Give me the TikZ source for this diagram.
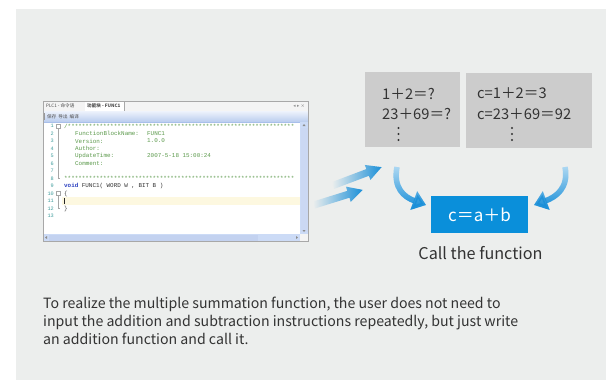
\documentclass[tikz,border=0pt]{standalone}
\usepackage{fontspec}
\setmainfont{Noto Sans CJK SC}
\newfontfamily\codefont{Liberation Mono}
\newfontfamily\symfont{DejaVu Sans}
\usetikzlibrary{arrows.meta,fadings}
\definecolor{bg}{HTML}{ECEEED}
\definecolor{boxgray}{HTML}{CCCCCC}
\definecolor{fnblue}{HTML}{0A8FDA}
\definecolor{arrblue}{HTML}{1A8FD8}
\definecolor{arrlight}{HTML}{B5DCF4}
\definecolor{txt}{HTML}{333333}
\definecolor{edborder}{HTML}{A8A8A8}
\definecolor{tabbg}{HTML}{F4F4F4}
\definecolor{tbtop}{HTML}{EEF3FC}
\definecolor{tbbot}{HTML}{B9CCEE}
\definecolor{cmt}{HTML}{5C9A4C}
\definecolor{lnc}{HTML}{3E9C9C}
\definecolor{kw}{HTML}{2A3FC0}
\definecolor{sb}{HTML}{CCDBF6}
\definecolor{sbdark}{HTML}{A9BFEA}
\definecolor{hl}{HTML}{FDF8E0}
\def\eightstars{********}
\def\stars{\eightstars\eightstars\eightstars\eightstars\eightstars\eightstars\eightstars\eightstars}
\begin{document}
\begin{tikzpicture}[x=1pt,y=-1pt,
  code/.style={anchor=west,inner sep=0pt,font=\codefont\fontsize{5.9}{6}\selectfont},
  lnum/.style={anchor=east,inner sep=0pt,text=lnc,font=\codefont\fontsize{5.2}{6}\selectfont},
  tiny/.style={anchor=west,inner sep=0pt,font=\fontsize{4.6}{5}\selectfont,text=black!70},
  graybox/.style={fill=boxgray,inner sep=0pt},
  eq/.style={anchor=base west,inner sep=0pt,text=txt,font=\fontsize{14.7}{16}\selectfont},
  para/.style={anchor=base west,inner sep=0pt,text=txt,font=\fontsize{14.15}{18}\selectfont},
  bigarrow/.style={line width=5.5pt,-{Triangle[length=13pt,width=19pt]}}
]
\useasboundingbox (0,0) rectangle (606,380);
\fill[bg] (16,9) rectangle (606,380);

% ---------- editor screenshot ----------
\fill[white] (43,101) rectangle (308,241);
\fill[tabbg] (43,101) rectangle (308,111);
\fill[white] (85,102) rectangle (124,111);
\draw[edborder,line width=0.4pt] (124,102) -- (124,111);
\node[tiny] (tab1) at (46,106) {PLC1 - 命令语};
\node[tiny,font=\bfseries\fontsize{4.6}{5}\selectfont] (tab2) at (87,106) {功能块 - FUNC1};
\node[tiny,anchor=east,text=black!45,font=\symfont\fontsize{4.6}{5}\selectfont] (tabctl) at (305,106) {◂ ▸ ×};
\shade[top color=tbtop,bottom color=tbbot] (43,111) rectangle (308,122);
\draw[sbdark,line width=0.5pt] (43,122) -- (308,122);
\node[tiny] (tools) at (47,116.5) {保存\ \ 导出\ \ 编译};
\draw[black!40,line width=0.4pt] (44.5,113) -- (44.5,120);

% highlight line and scrollbars
\fill[hl] (62,197) rectangle (300,204.5);
\fill[sb] (300,122) rectangle (308,234);
\fill[sbdark!60] (300.5,128) rectangle (307.5,232);
\fill[sb] (43,234) rectangle (300,241);
\fill[sbdark!70] (49,234.5) rectangle (258,240.5);
\fill[tabbg] (300,234) rectangle (308,241);
\fill[black!45] (302.5,126) -- (305.5,126) -- (304,124) -- cycle;
\fill[black!45] (302.5,230) -- (305.5,230) -- (304,232) -- cycle;
\fill[black!45] (47,236) -- (47,239) -- (45,237.5) -- cycle;
\fill[black!45] (296,236) -- (296,239) -- (298,237.5) -- cycle;
\draw[edborder,line width=0.5pt] (43,101) rectangle (308,241);

% fold markers
\draw[black!35,line width=0.3pt] (56,124) rectangle (60,128);
\draw[black!35,line width=0.3pt] (56,191.5) rectangle (60,195.5);
\draw[black!35,line width=0.3pt] (58,128) -- (58,178.5) -- (60,178.5);
\draw[black!35,line width=0.3pt] (58,195.5) -- (58,208.5) -- (60,208.5);

% line numbers
\foreach \i in {1,...,13} {
  \node[lnum] (ln\i) at (54,{126+(\i-1)*7.5}) {\i};
}
% code text
\node[code,text=cmt] (c1) at (64,126) {/\stars};
\node[code,text=cmt] (c2) at (75,133.5) {FunctionBlockName:};
\node[code,text=cmt] (c2v) at (147,133.5) {FUNC1};
\node[code,text=cmt] (c3) at (75,141) {Version:};
\node[code,text=cmt] (c3v) at (147,141) {1.0.0};
\node[code,text=cmt] (c4) at (75,148.5) {Author:};
\node[code,text=cmt] (c5) at (75,156) {UpdateTime:};
\node[code,text=cmt] (c5v) at (147,156) {2007-5-18 15:00:24};
\node[code,text=cmt] (c6) at (75,163.5) {Comment:};
\node[code,text=cmt] (c8) at (64,178.5) {*\stars};
\node[code] (c9) at (64,186) {\textcolor{kw}{\bfseries void} \textcolor{black!80}{FUNC1( WORD W , BIT B )}};
\node[code,text=black!70] (c10) at (64,193.5) {\{};
\fill[black!85] (64,197.5) rectangle (65.3,204);
\node[code,text=black!70] (c12) at (64,208.5) {\}};

% ---------- straight arrows ----------
\begin{scope}[shift={(333,185.5)},rotate=20.7]
  \shade[left color=bg,right color=arrblue] (0,-3.6) -- (37,-3.6) -- (37,-8) -- (52,0) -- (37,8) -- (37,3.6) -- (0,3.6) -- cycle;
\end{scope}
\begin{scope}[shift={(314,205)},rotate=17.3]
  \shade[left color=bg,right color=arrblue] (0,-3.6) -- (36,-3.6) -- (36,-8) -- (51,0) -- (36,8) -- (36,3.6) -- (0,3.6) -- cycle;
\end{scope}

% ---------- boxes ----------
\node[graybox,minimum width=95pt,minimum height=75pt] (q) at (412.5,109.5) {};
\node[graybox,minimum width=126pt,minimum height=75pt] (a) at (529,110.5) {};
\node[eq] (q1) at (382,99) {1＋2＝?};
\node[eq] (q2) at (382,119.5) {23＋69＝?};
\node[eq] (a1) at (477,98.5) {c=1＋2＝3};
\node[eq] (a2) at (477,119.5) {c=23＋69＝92};
\foreach \yy in {128,134,140} {
  \fill[txt] (398.5,\yy) circle (1.1);
  \fill[txt] (512,\yy) circle (1.1);
}

\node[fill=fnblue,minimum width=97pt,minimum height=37pt,inner sep=0pt,text=white,font=\fontsize{17}{18}\selectfont] (fn) at (479.5,214.5) {c＝a＋b};
\node[inner sep=0pt,text=txt,font=\fontsize{16.2}{17}\selectfont,anchor=base] (call) at (480.5,259) {Call the function};

% ---------- curved arrows ----------
\coordinate (ls) at (397,167);
\coordinate (lt) at (426,205);
\coordinate (rs) at (565,167);
\coordinate (rt) at (534,205);
\draw[bigarrow,arrlight] (ls) .. controls (393,188) and (404,197) .. (lt);
\draw[bigarrow,arrblue,path fading=north] (ls) .. controls (393,188) and (404,197) .. (lt);
\draw[bigarrow,arrlight] (rs) .. controls (569,188) and (556,197) .. (rt);
\draw[bigarrow,arrblue,path fading=north] (rs) .. controls (569,188) and (556,197) .. (rt);

% ---------- caption ----------
\node[para] (p1) at (43,308) {To realize the multiple summation function, the user does not need to};
\node[para] (p2) at (43,326) {input the addition and subtraction instructions repeatedly, but just write};
\node[para] (p3) at (43,344) {an addition function and call it.};
\end{tikzpicture}
\end{document}
